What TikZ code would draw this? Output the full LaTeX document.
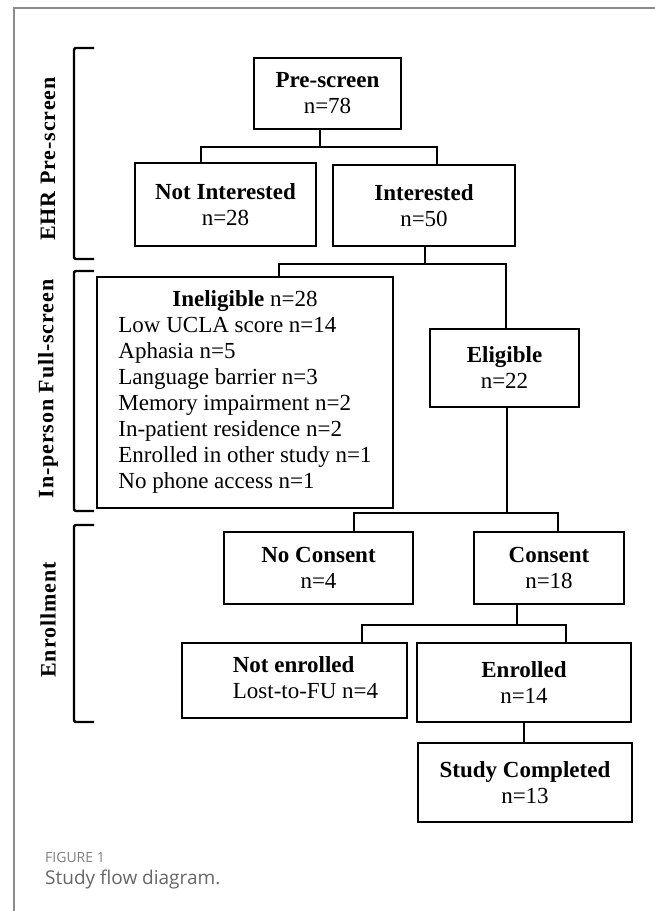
\documentclass[tikz,border=0pt]{standalone}
\usepackage{fontspec}
\setmainfont{Liberation Serif}
\newfontfamily\capfont{Open Sans}
\newfontfamily\lblfont[LetterSpace=4]{Liberation Serif}
\usetikzlibrary{calc}

\begin{document}
\begin{tikzpicture}[x=1pt,y=-1pt,
    box/.style={draw,line width=1.3pt,align=center,inner sep=0pt,
        font=\fontsize{23}{26}\selectfont},
    lbl/.style={rotate=90,inner sep=0pt,font=\lblfont\fontsize{22}{26}\selectfont\bfseries},
    brk/.style={line width=2.4pt,rounded corners=2pt},
    link/.style={line width=1.3pt}]
    \useasboundingbox (0,0) rectangle (655,911);
    % frame
    \draw[black!45,line width=2pt] (14,911) -- (14,8) -- (655,8);
    % stages
    \foreach \a/\b in {48/259,271/511,525/722}
        \draw[brk] (94,\a) -- (74,\a) -- (74,\b) -- (94,\b);
    \node[lbl] (ehr) at (48,159) {EHR Pre-screen};
    \node[lbl] (full) at (48,389) {In-person Full-screen};
    \node[lbl] (enrl) at (48,620) {Enrollment};
    % boxes
    \node[box,minimum width=147,minimum height=71] (pre) at (327.5,93.5) {\textbf{Pre-screen}\\n=78};
    \node[box,minimum width=181,minimum height=83] (notint) at (225.5,204.5) {\textbf{Not Interested}\\n=28};
    \node[box,minimum width=182,minimum height=81] (int) at (424,205.5) {\textbf{Interested}\\n=50};
    \node[box,minimum width=296,minimum height=231] (inelig) at (245,392.5) {%
        \begin{tabular}{@{}l@{}}
            \multicolumn{1}{@{}c@{}}{\textbf{Ineligible} n=28}\\
            Low UCLA score n=14\\
            Aphasia n=5\\
            Language barrier n=3\\
            Memory impairment n=2\\
            In-patient residence n=2\\
            Enrolled in other study n=1\\
            No phone access n=1
        \end{tabular}};
    \node[box,minimum width=149,minimum height=78] (elig) at (504.5,368) {\textbf{Eligible}\\n=22};
    \node[box,minimum width=189,minimum height=72] (nocons) at (318.5,568) {\textbf{No Consent}\\n=4};
    \node[box,minimum width=150,minimum height=72] (cons) at (549,568) {\textbf{Consent}\\n=18};
    \node[box,minimum width=225,minimum height=75] (notenr) at (294.5,680.5) {%
        \begin{tabular}{@{\hspace{22pt}}l@{}}
            \textbf{Not enrolled}\\
            Lost-to-FU n=4
        \end{tabular}};
    \node[box,minimum width=214,minimum height=79] (enr) at (524,682.5) {\textbf{Enrolled}\\n=14};
    \node[box,minimum width=214,minimum height=79] (done) at (525,782.5) {\textbf{Study Completed}\\n=13};
    % splits
    \foreach \p/\a/\b/\l/\j/\r/\y in {pre/notint/int/201/320/437/147,
            int/inelig/elig/279/425/506/264,
            elig/nocons/cons/354/507/558/513,
            cons/notenr/enr/362/517/566/625} {
        \coordinate (l) at (\l,\y);
        \coordinate (m) at (\j,\y);
        \coordinate (r) at (\r,\y);
        \draw[link] (\p.south -| m) -- (m);
        \draw[link] (\a.north -| l) |- (r) -- (\b.north -| r);
    }
    \draw[link] (enr.south) -- (enr.south |- done.north);
    % caption
    \node[anchor=base west,inner sep=0pt,text=black!50,font=\capfont\fontsize{14}{16}\selectfont] (fig) at (45,862) {FIGURE 1};
    \node[anchor=base west,inner sep=0pt,text=black!60,font=\capfont\fontsize{19}{22}\selectfont] (cap) at (45,884) {Study flow diagram.};
\end{tikzpicture}
\end{document}
